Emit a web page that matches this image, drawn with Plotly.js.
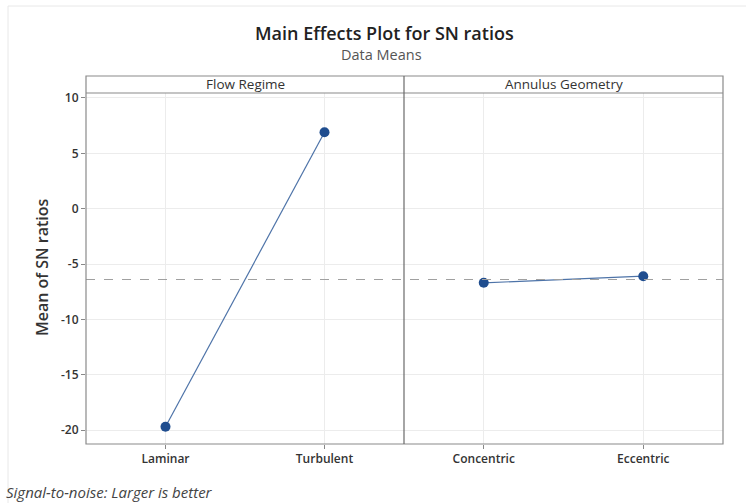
<!DOCTYPE html>
<html>
<head>
<meta charset="utf-8">
<script src="https://cdn.plot.ly/plotly-3.0.1.min.js"></script>
<style>html,body{margin:0;padding:0;background:#fff;}#chart{width:746px;height:503px;}</style>
</head>
<body>
<div id="chart"></div>
<script>
// Data
const flowLevels = ['Laminar', 'Turbulent'];
const flowMeans = [-19.7, 6.9];
const geomLevels = ['Concentric', 'Eccentric'];
const geomMeans = [-6.7, -6.1];
const panelNames = ['Flow Regime', 'Annulus Geometry'];
const yTicks = [-20, -15, -10, -5, 0, 5, 10];
const yTickText = ['-20', '-15', '-10', '-5', '0', '5', '10'];

const allVals = flowMeans.concat(geomMeans);
const overallMean = allVals.reduce((a, b) => a + b, 0) / allVals.length;

const W = 746, H = 503;
const px = x => x / W;
const py = y => 1 - y / H;
const L = 86, MID = 404, R = 723, HT = 76, HB = 93, B = 444;

const font = 'Open Sans, Noto Sans, sans-serif';
const markerColor = '#1f4d8f';
const lineColor = '#4d73a8';

const traces = [
  {x: flowLevels, y: flowMeans, xaxis: 'x', yaxis: 'y', mode: 'lines+markers',
   line: {color: lineColor, width: 1.2}, marker: {color: markerColor, size: 10}, hoverinfo: 'skip'},
  {x: geomLevels, y: geomMeans, xaxis: 'x2', yaxis: 'y', mode: 'lines+markers',
   line: {color: lineColor, width: 1.2}, marker: {color: markerColor, size: 10}, hoverinfo: 'skip'}
];

const xCommon = {
  type: 'category', range: [-0.5, 1.5], showgrid: true, gridcolor: '#ececec', gridwidth: 1,
  zeroline: false, showline: false, ticks: 'outside', ticklen: 4, tickcolor: '#888',
  tickfont: {family: font, size: 12, color: '#333', weight: 600}, fixedrange: true
};

const layout = {
  width: W, height: H,
  margin: {l: 0, r: 0, t: 0, b: 0},
  paper_bgcolor: '#fff', plot_bgcolor: '#fff',
  showlegend: false,
  xaxis: Object.assign({}, xCommon, {domain: [px(L), px(MID)], anchor: 'y'}),
  xaxis2: Object.assign({}, xCommon, {domain: [px(MID), px(R)], anchor: 'y'}),
  yaxis: {
    domain: [py(B), py(HB)], range: [-21.26, 10.45], tickvals: yTicks, ticktext: yTickText,
    showgrid: true, gridcolor: '#ececec', zeroline: false, showline: false,
    ticks: 'outside', ticklen: 4, tickcolor: '#888',
    tickfont: {family: font, size: 12, color: '#333', weight: 600}, fixedrange: true
  },
  shapes: [
    {type: 'rect', xref: 'paper', yref: 'paper', x0: px(8), x1: px(760), y0: py(520), y1: py(6),
     line: {color: '#e8e8e8', width: 1}},
    {type: 'line', xref: 'paper', yref: 'y', x0: px(L), x1: px(R), y0: overallMean, y1: overallMean,
     line: {color: '#a0a0a0', width: 1, dash: 'dash'}},
    {type: 'rect', xref: 'paper', yref: 'paper', x0: px(L), x1: px(R), y0: py(B), y1: py(HT),
     line: {color: '#8a8a8a', width: 1.2}},
    {type: 'line', xref: 'paper', yref: 'paper', x0: px(L), x1: px(R), y0: py(HB), y1: py(HB),
     line: {color: '#8a8a8a', width: 1.2}},
    {type: 'line', xref: 'paper', yref: 'paper', x0: px(MID), x1: px(MID), y0: py(B), y1: py(HT),
     line: {color: '#6a6a6a', width: 1.2}}
  ],
  annotations: [
    {text: 'Main Effects Plot for SN ratios', xref: 'paper', yref: 'paper', x: px(384), y: py(33),
     showarrow: false, xanchor: 'center', yanchor: 'middle', font: {family: font, size: 18, color: '#222', weight: 600}},
    {text: 'Data Means', xref: 'paper', yref: 'paper', x: px(381), y: py(55),
     showarrow: false, xanchor: 'center', yanchor: 'middle', font: {family: font, size: 14.5, color: '#555'}},
    {text: panelNames[0], xref: 'paper', yref: 'paper', x: px((L + MID) / 2), y: py((HT + HB) / 2),
     showarrow: false, xanchor: 'center', yanchor: 'middle', font: {family: font, size: 13.5, color: '#333'}},
    {text: panelNames[1], xref: 'paper', yref: 'paper', x: px((MID + R) / 2), y: py((HT + HB) / 2),
     showarrow: false, xanchor: 'center', yanchor: 'middle', font: {family: font, size: 13.5, color: '#333'}},
    {text: 'Mean of SN ratios', xref: 'paper', yref: 'paper', x: px(42), y: py(267), textangle: -90,
     showarrow: false, xanchor: 'center', yanchor: 'middle', font: {family: font, size: 16, color: '#333', weight: 600}},
    {text: '<i>Signal-to-noise: Larger is better</i>', xref: 'paper', yref: 'paper', x: px(4), y: py(492),
     showarrow: false, xanchor: 'left', yanchor: 'middle', font: {family: font, size: 15, color: '#444'}}
  ]
};

Plotly.newPlot('chart', traces, layout, {displayModeBar: false, staticPlot: true});
</script>
</body>
</html>
